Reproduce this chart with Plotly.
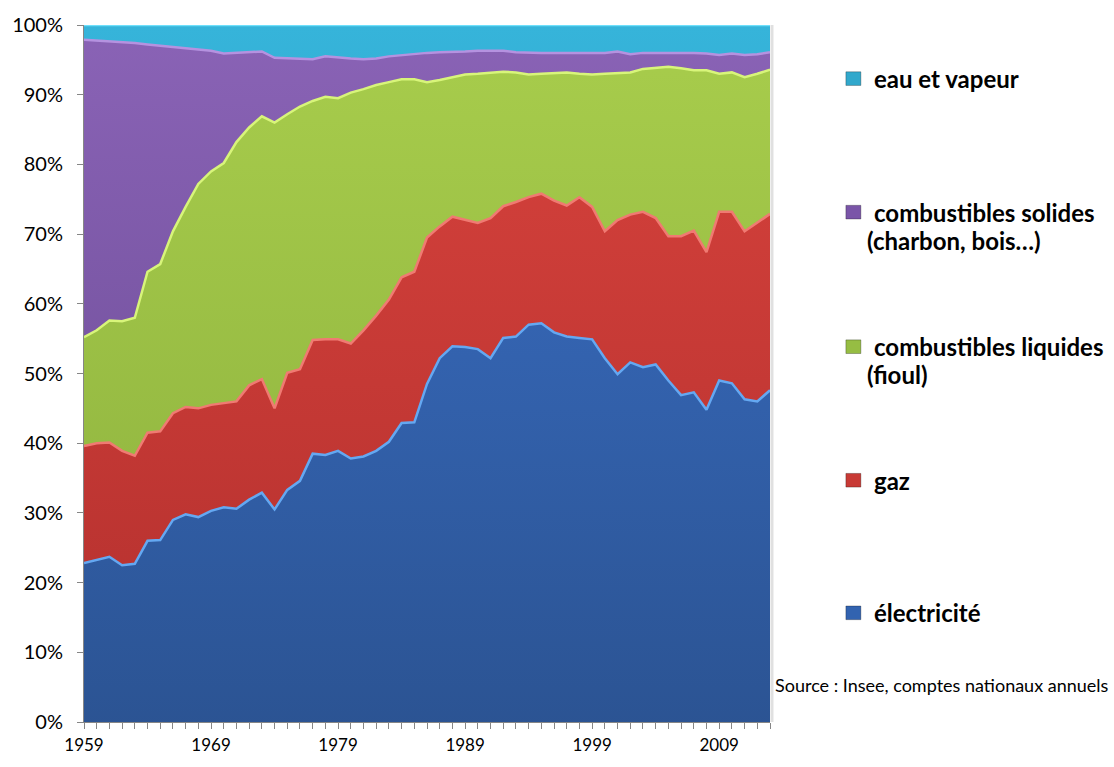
import plotly.graph_objects as go

years = list(range(1959, 2014))

electricite = [22.8, 23.2, 23.7, 22.5, 22.7, 26.0, 26.1, 29.0, 29.8, 29.4,
               30.3, 30.8, 30.6, 31.9, 32.9, 30.5, 33.3, 34.6, 38.5, 38.3,
               38.9, 37.8, 38.1, 38.9, 40.2, 42.9, 43.0, 48.5, 52.2, 53.9,
               53.8, 53.5, 52.2, 55.1, 55.3, 57.0, 57.2, 55.9, 55.3, 55.1,
               54.9, 52.2, 49.9, 51.6, 50.9, 51.3, 49.0, 46.9, 47.3, 44.8,
               49.0, 48.6, 46.3, 46.0, 47.6]

gaz = [16.8, 16.8, 16.4, 16.4, 15.5, 15.5, 15.6, 15.3, 15.4, 15.6,
       15.2, 15.0, 15.4, 16.4, 16.3, 14.5, 16.8, 16.0, 16.3, 16.6,
       16.0, 16.5, 18.1, 19.4, 20.4, 20.9, 21.6, 21.0, 18.9, 18.6,
       18.2, 18.1, 20.1, 18.9, 19.3, 18.3, 18.6, 18.9, 18.8, 20.2,
       19.0, 18.2, 22.1, 21.2, 22.3, 21.0, 20.7, 22.8, 23.2, 22.6,
       24.2, 24.6, 24.1, 25.6, 25.3]

liquides = [15.6, 16.2, 17.5, 18.6, 19.8, 23.1, 24.0, 26.1, 28.7, 32.2,
            33.5, 34.4, 37.2, 37.0, 37.7, 41.0, 37.1, 37.7, 34.3, 34.8,
            34.6, 36.0, 34.6, 33.1, 31.2, 28.4, 27.6, 22.3, 21.0, 20.0,
            20.9, 21.4, 20.9, 19.3, 18.6, 17.6, 17.2, 18.3, 19.1, 17.7,
            19.0, 22.6, 21.1, 20.4, 20.5, 21.6, 24.3, 24.1, 23.0, 26.1,
            19.8, 20.0, 22.1, 21.4, 20.7]

solides = [42.7, 41.6, 40.1, 40.0, 39.4, 32.6, 31.3, 26.5, 22.8, 19.3,
           17.3, 15.7, 12.8, 10.8, 9.3, 9.3, 8.0, 6.9, 6.0, 5.8,
           5.8, 4.9, 4.3, 3.8, 3.7, 3.5, 3.6, 4.2, 4.0, 3.6,
           3.3, 3.3, 3.1, 3.0, 2.9, 3.1, 3.0, 2.9, 2.8, 2.9,
           3.0, 3.0, 3.1, 2.6, 2.3, 2.1, 2.1, 2.2, 2.5, 2.4,
           2.7, 2.7, 3.2, 2.8, 2.5]

eau = [2.1, 2.2, 2.3, 2.5, 2.6, 2.8, 3.0, 3.1, 3.3, 3.5,
       3.7, 4.1, 4.0, 3.9, 3.8, 4.7, 4.8, 4.8, 4.9, 4.5,
       4.7, 4.8, 4.9, 4.8, 4.5, 4.3, 4.2, 4.0, 3.9, 3.9,
       3.8, 3.7, 3.7, 3.7, 3.9, 4.0, 4.0, 4.0, 4.0, 4.1,
       4.1, 4.0, 3.8, 4.2, 4.0, 4.0, 3.9, 4.0, 4.0, 4.1,
       4.3, 4.1, 4.3, 4.2, 3.9]

series = [
    ("électricité", electricite, "#2b5392", "#3a6fc6", "#64a8f2"),
    ("gaz", gaz, "#b22f2d", "#d8433d", "#f07a72"),
    ("combustibles liquides (fioul)", liquides, "#8aae3c", "#a8cd4c", "#d8f57a"),
    ("combustibles solides (charbon, bois…)", solides, "#65478f", "#8a63b6", "#b592e0"),
    ("eau et vapeur", eau, "#2794b8", "#36b4da", "#6fe0fb"),
]

legend_items = [
    ("eau et vapeur", None, 75, "#31a8cc"),
    ("combustibles solides", "(charbon, bois…)", 212, "#7a55a8"),
    ("combustibles liquides", "(fioul)", 350, "#96bd43"),
    ("gaz", None, 487, "#c83a35"),
    ("électricité", None, 623, "#3263b0"),
]

fig = go.Figure()
for name, vals, c_bot, c_top, c_edge in series:
    fig.add_trace(go.Scatter(
        x=years, y=vals, name=name, mode="lines",
        stackgroup="one", groupnorm="percent",
        line=dict(color=c_edge, width=2.5),
        fillgradient=dict(type="vertical", start=0, stop=100,
                          colorscale=[[0, c_bot], [1, c_top]]),
        hoverinfo="x+y+name",
    ))

W, H = 1114, 767
L, R, T, B = 83, 344, 20, 32
pw, ph = W - L - R, H - T - B


def px(x):
    return (x - L) / pw


def py(y):
    return (H - B - y) / ph


font_family = "Lato, Calibri, Carlito, sans-serif"
annotations = []
shapes = []
for l1, l2, yc, col in legend_items:
    shapes.append(dict(type="rect", xref="paper", yref="paper",
                       x0=px(846), x1=px(861), y0=py(yc + 7), y1=py(yc - 7),
                       fillcolor=col, line=dict(color="rgba(0,0,0,0.35)", width=0.8)))
    annotations.append(dict(xref="paper", yref="paper", x=px(872), y=py(yc),
                            xanchor="left", yanchor="middle", showarrow=False,
                            text="<b>" + l1 + "</b>",
                            font=dict(family=font_family, size=24, color="#000")))
    if l2:
        annotations.append(dict(xref="paper", yref="paper", x=px(865), y=py(yc + 29),
                                xanchor="left", yanchor="middle", showarrow=False,
                                text="<b>" + l2 + "</b>",
                                font=dict(family=font_family, size=24, color="#000")))

annotations.append(dict(xref="paper", yref="paper", x=px(773), y=py(697),
                        xanchor="left", yanchor="middle", showarrow=False,
                        text="Source : Insee, comptes nationaux annuels",
                        font=dict(family=font_family, size=18, color="#000")))

shapes.append(dict(type="line", xref="paper", yref="paper", x0=px(772), x1=px(772),
                   y0=0, y1=1, line=dict(color="rgba(0,0,0,0.12)", width=3)))

fig.update_layout(
    width=W, height=H,
    margin=dict(l=L, r=R, t=T, b=B, pad=0),
    paper_bgcolor="white", plot_bgcolor="white",
    showlegend=False,
    annotations=annotations, shapes=shapes,
    font=dict(family=font_family, size=17, color="#000"),
    xaxis=dict(range=[1959, 2013], tickmode="linear", tick0=1959, dtick=10,
               ticks="outside", ticklen=6, tickcolor="#868686",
               showline=True, linecolor="#868686", linewidth=1,
               showgrid=False, zeroline=False,
               minor=dict(dtick=1, tick0=1959, ticks="outside", ticklen=6,
                          tickcolor="#868686", showgrid=False),
               tickfont=dict(size=17), ticklabelstandoff=2),
    yaxis=dict(range=[0, 100], tickmode="linear", tick0=0, dtick=10,
               ticksuffix="%", ticks="outside", ticklen=6, tickcolor="#868686",
               showline=True, linecolor="#868686", linewidth=1,
               showgrid=False, zeroline=False, tickfont=dict(size=20),
               ticklabelstandoff=10),
)

fig.write_html("out.html", config={"displayModeBar": False},
               post_script="document.body.style.margin='0';document.body.style.overflow='hidden';")
